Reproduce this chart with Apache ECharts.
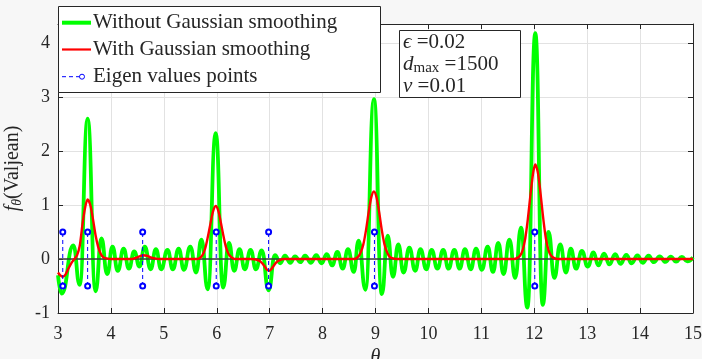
<!DOCTYPE html>
<html>
<head>
<meta charset="utf-8">
<script src="https://cdn.jsdelivr.net/npm/echarts@6/dist/echarts.min.js"></script>
<style>
html,body{margin:0;padding:0;background:#f7f7f7;}
#chart{width:702px;height:359px;}
</style>
</head>
<body>
<div id="chart"></div>
<script>
// ---- data ----
// green curve (without smoothing): local extrema
const greenTheta = [3.00,3.07,3.29,3.41,3.56,3.71,3.82,3.93,4.03,4.13,4.24,4.34,4.44,4.54,4.64,4.75,4.85,4.95,5.07,5.17,5.28,5.38,5.50,5.61,5.71,5.83,5.98,6.12,6.23,6.33,6.43,6.53,6.64,6.74,6.85,6.98,7.10,7.20,7.29,7.39,7.48,7.58,7.67,7.78,7.88,7.98,8.08,8.18,8.28,8.38,8.48,8.59,8.68,8.81,8.97,9.12,9.23,9.33,9.43,9.53,9.64,9.75,9.85,9.96,10.06,10.17,10.28,10.38,10.49,10.59,10.69,10.80,10.90,11.01,11.12,11.22,11.32,11.42,11.53,11.64,11.75,11.87,12.02,12.16,12.27,12.38,12.49,12.60,12.69,12.79,12.90,13.01,13.12,13.21,13.32,13.42,13.53,13.63,13.74,13.84,13.95,14.05,14.16,14.26,14.37,14.48,14.58,14.68,14.79,14.89,15.00];
const greenValue = [-0.30,-0.64,0.25,-0.48,2.60,-0.60,0.38,-0.28,0.23,-0.22,0.19,-0.18,0.14,-0.14,0.23,-0.19,0.18,-0.19,0.17,-0.19,0.19,-0.20,0.23,-0.25,0.36,-0.56,2.33,-0.53,0.30,-0.22,0.18,-0.19,0.17,-0.19,0.16,-0.58,0.07,-0.08,0.06,-0.07,0.05,-0.06,0.06,-0.07,0.07,-0.08,0.09,-0.12,0.13,-0.18,0.18,-0.24,0.34,-0.57,2.96,-0.65,0.43,-0.33,0.27,-0.25,0.21,-0.22,0.18,-0.19,0.17,-0.18,0.17,-0.18,0.17,-0.18,0.18,-0.19,0.19,-0.20,0.23,-0.24,0.30,-0.28,0.36,-0.35,0.58,-0.90,4.18,-0.85,0.50,-0.35,0.27,-0.25,0.19,-0.18,0.15,-0.14,0.12,-0.12,0.10,-0.10,0.09,-0.09,0.075,-0.08,0.065,-0.07,0.06,-0.06,0.05,-0.055,0.045,-0.05,0.04,-0.045,0.03];

// red curve (with Gaussian smoothing)
const redTheta = [3.00,3.04,3.09,3.14,3.19,3.25,3.31,3.36,3.41,3.46,3.51,3.56,3.61,3.66,3.71,3.76,3.81,3.86,3.92,4.00,4.40,4.47,4.54,4.61,4.68,4.75,4.83,4.92,5.62,5.68,5.73,5.78,5.83,5.88,5.93,5.98,6.03,6.08,6.13,6.18,6.23,6.28,6.34,6.66,6.74,6.80,6.85,6.90,6.95,6.99,7.03,7.08,7.13,7.19,7.26,8.60,8.67,8.72,8.77,8.82,8.87,8.92,8.97,9.02,9.07,9.12,9.17,9.22,9.27,9.33,9.40,11.62,11.68,11.73,11.78,11.83,11.88,11.93,11.98,12.02,12.07,12.12,12.17,12.22,12.27,12.32,12.37,12.44,15.00];
const redValue = [-0.25,-0.30,-0.33,-0.29,-0.19,-0.08,0.00,0.07,0.24,0.62,0.94,1.10,1.00,0.74,0.44,0.22,0.09,0.03,0.01,0.00,0.00,0.02,0.05,0.07,0.06,0.03,0.01,0.00,0.00,0.02,0.07,0.19,0.40,0.65,0.88,0.98,0.89,0.66,0.41,0.20,0.08,0.03,0.00,0.00,-0.01,-0.03,-0.07,-0.13,-0.20,-0.22,-0.19,-0.12,-0.06,-0.02,0.00,0.00,0.04,0.12,0.27,0.53,0.86,1.14,1.25,1.14,0.86,0.53,0.27,0.12,0.04,0.01,0.00,0.00,0.02,0.06,0.16,0.38,0.75,1.20,1.60,1.75,1.59,1.20,0.75,0.38,0.16,0.06,0.02,0.00,0.00];

// eigen value stems
const eigenTheta = [3.09,3.56,4.60,5.99,6.98,8.98,12.01];
const stemLow = -0.5;
const stemHigh = 0.5;

// axes
const xRange = [3, 15];
const yRange = [-1, 4.35];
const baseline = [[3, 0], [15, 0]];

// legend / annotation texts
const legendNames = ['Without Gaussian smoothing', 'With Gaussian smoothing', 'Eigen values points'];
const paramText = '{i|ϵ} =0.02\n{i|d}{s|max} =1500\n{i|v} =0.01';

// ---- build chart ----
const greenData = greenTheta.map((t, i) => [t, greenValue[i]]);
const redData = redTheta.map((t, i) => [t, redValue[i]]);
const stemData = [];
eigenTheta.forEach(t => { stemData.push([t, stemLow], [t, stemHigh], [t, '-']); });

const FONT = '"Liberation Serif", "DejaVu Serif", serif';
const AX = '#262626';
const GREEN = '#00ff00', RED = '#ff0000', BLUE = '#0000ff';

const chart = echarts.init(document.getElementById('chart'), null, {renderer: 'canvas'});
const intLabel = v => (Math.abs(v - Math.round(v)) < 1e-9 ? String(Math.round(v)) : '');

const legendRows = [22.7, 49.5, 76.7];
const legendGraphics = [
  {type: 'rect', shape: {x: 58.5, y: 6.5, width: 322, height: 86}, style: {fill: '#ffffff', stroke: AX, lineWidth: 1}, z: 100},
  {type: 'line', shape: {x1: 62, y1: legendRows[0], x2: 91, y2: legendRows[0]}, style: {stroke: GREEN, lineWidth: 4}, z: 101},
  {type: 'line', shape: {x1: 62, y1: legendRows[1], x2: 91, y2: legendRows[1]}, style: {stroke: RED, lineWidth: 2.2}, z: 101},
  {type: 'line', shape: {x1: 62, y1: legendRows[2], x2: 80, y2: legendRows[2]}, style: {stroke: BLUE, lineWidth: 1, lineDash: [4, 3]}, z: 101},
  {type: 'circle', shape: {cx: 82, cy: legendRows[2], r: 2.5}, style: {fill: '#ffffff', stroke: BLUE, lineWidth: 1}, z: 102}
];
legendNames.forEach((n, i) => {
  legendGraphics.push({type: 'text', x: 93, y: legendRows[i], z: 101,
    style: {text: n, font: '21px ' + FONT, fill: AX, verticalAlign: 'middle', align: 'left'}});
});

chart.setOption({
  animation: false,
  backgroundColor: '#f7f7f7',
  grid: {left: 58, right: 9, top: 24, bottom: 46, show: true, backgroundColor: '#ffffff', borderWidth: 0,
         containLabel: false, outerBoundsMode: 'none'},
  xAxis: [{
    type: 'value', min: xRange[0], max: xRange[1], interval: 1, position: 'bottom',
    axisLine: {show: true, onZero: false, lineStyle: {color: AX, width: 1}},
    axisTick: {show: true, inside: true, length: 5, lineStyle: {color: AX}},
    axisLabel: {fontFamily: FONT, fontSize: 18, color: AX, margin: 12, formatter: intLabel},
    splitLine: {show: true, lineStyle: {color: '#e2e2e2', width: 1}},
    name: 'θ', nameLocation: 'middle', nameGap: 30,
    nameTextStyle: {fontFamily: FONT, fontSize: 20, fontStyle: 'italic', color: AX}
  }, {
    type: 'value', min: xRange[0], max: xRange[1], interval: 1, position: 'top',
    axisLine: {show: true, onZero: false, lineStyle: {color: AX, width: 1}},
    axisTick: {show: true, inside: true, length: 5, lineStyle: {color: AX}},
    axisLabel: {show: false}, splitLine: {show: false}
  }],
  yAxis: [{
    type: 'value', min: yRange[0], max: yRange[1], interval: 1, position: 'left',
    axisLine: {show: true, onZero: false, lineStyle: {color: AX, width: 1}},
    axisTick: {show: true, inside: true, length: 5, lineStyle: {color: AX}},
    axisLabel: {fontFamily: FONT, fontSize: 18, color: AX, margin: 8, formatter: intLabel, showMaxLabel: false},
    splitLine: {show: true, lineStyle: {color: '#e2e2e2', width: 1}},
    name: '{i|f}{s|θ}(Valjean)', nameLocation: 'middle', nameGap: 29,
    nameTextStyle: {fontFamily: FONT, fontSize: 20, color: AX,
      rich: {i: {fontFamily: FONT, fontSize: 20, fontStyle: 'italic', color: AX},
             s: {fontFamily: FONT, fontSize: 14, fontStyle: 'italic', color: AX, padding: [8, 0, 0, 0]}}}
  }, {
    type: 'value', min: yRange[0], max: yRange[1], interval: 1, position: 'right',
    axisLine: {show: true, onZero: false, lineStyle: {color: AX, width: 1}},
    axisTick: {show: true, inside: true, length: 5, lineStyle: {color: AX}},
    axisLabel: {show: false}, splitLine: {show: false}
  }],
  series: [{
    name: legendNames[0], type: 'line', data: greenData,
    symbol: 'none', smooth: 0.5, smoothMonotone: 'x',
    lineStyle: {color: GREEN, width: 3.8}, itemStyle: {color: GREEN}, z: 2
  }, {
    name: 'baseline', type: 'line', data: baseline, symbol: 'none',
    lineStyle: {color: '#3a3a3a', width: 1.5}, z: 3, silent: true
  }, {
    name: legendNames[1], type: 'line', data: redData,
    symbol: 'none', smooth: 0.3,
    lineStyle: {color: RED, width: 2.4}, itemStyle: {color: RED}, z: 4
  }, {
    name: legendNames[2], type: 'line', data: stemData, connectNulls: false,
    symbol: 'emptyCircle', symbolSize: 5, showSymbol: true,
    lineStyle: {color: BLUE, width: 1, type: [4, 3]},
    itemStyle: {color: BLUE, borderColor: BLUE, borderWidth: 1}, z: 5
  }],
  graphic: legendGraphics.concat([{
    type: 'rect', shape: {x: 399.5, y: 30.5, width: 121, height: 67},
    style: {fill: '#ffffff', stroke: AX, lineWidth: 1}, z: 100
  }, {
    type: 'text', x: 403, y: 31, z: 101,
    style: {
      text: paramText,
      font: '21px ' + FONT, fill: AX, lineHeight: 22,
      rich: {i: {fontFamily: FONT, fontSize: 21, fontStyle: 'italic', fill: AX, lineHeight: 22},
             s: {fontFamily: FONT, fontSize: 15, fill: AX, padding: [8, 0, 0, 0], lineHeight: 22}}
    }
  }])
});
</script>
</body>
</html>
